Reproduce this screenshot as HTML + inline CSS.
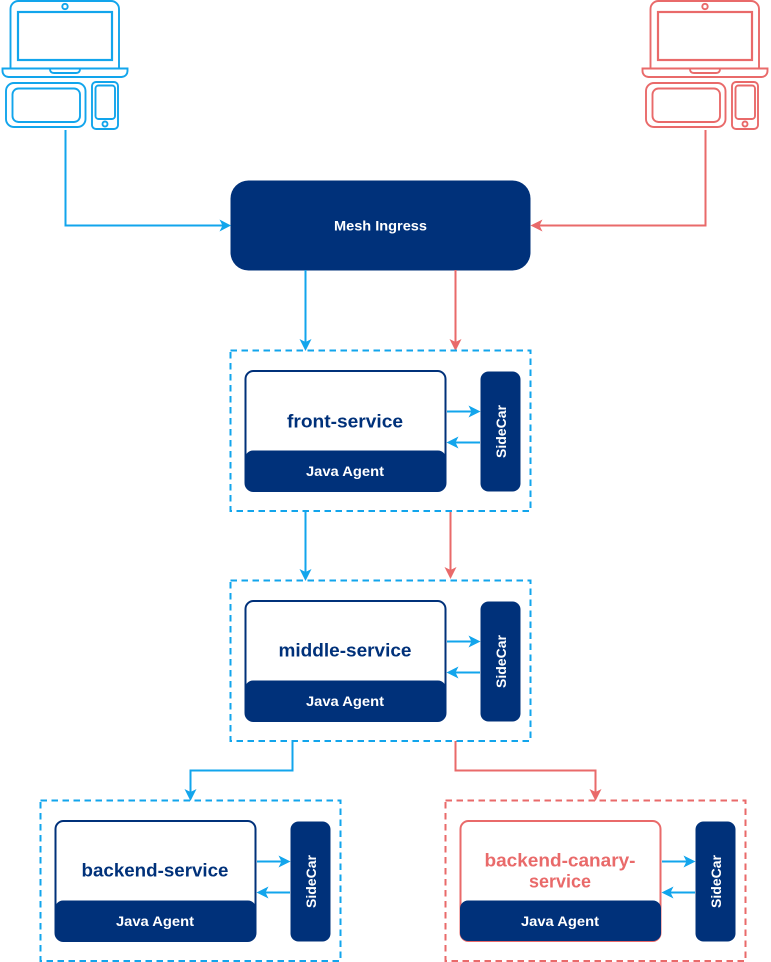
<!DOCTYPE html>
<html><head><meta charset="utf-8"><style>
html,body{margin:0;padding:0;background:#fff;width:771px;height:962px;overflow:hidden}
svg{display:block}
text{font-family:"Liberation Sans",sans-serif;font-weight:700;text-anchor:middle}
</style></head><body>
<svg width="771" height="962" viewBox="0 0 771 962" xmlns="http://www.w3.org/2000/svg">
<defs>
<g id="dev" fill="none" stroke-width="1.900">
<path d="M10.500 68V9a8 8 0 0 1 8-8H111a8 8 0 0 1 8 8V68"/>
<rect x="18" y="12" width="94" height="48" stroke-width="2.200"/>
<circle cx="65" cy="6.500" r="2.700"/>
<path d="M2.500 68.500H127.500V71a6 6 0 0 1-6 6H8.500a6 6 0 0 1-6-6Z"/>
<path d="M50 69q0 4 4 4H76q4 0 4-4"/>
<rect x="6" y="83" width="79.500" height="44" rx="8"/>
<rect x="12.500" y="88.500" width="67.500" height="33.500" rx="6"/>
<rect x="92" y="82" width="26" height="47" rx="4"/>
<rect x="95.500" y="85.500" width="19.500" height="33.500" rx="3"/>
<circle cx="105" cy="124" r="2.500"/>
</g>
<g id="svc">
<rect x="245.500" y="371" width="200" height="120" rx="8" fill="#fff" stroke="currentColor" stroke-width="2"/>
<path d="M245 458.500a8 8 0 0 1 8-8H438a8 8 0 0 1 8 8V483a8 8 0 0 1-8 8H253a8 8 0 0 1-8-8Z" fill="#00317a"/>
<rect x="480.500" y="371.500" width="40" height="120" rx="8" fill="#00317a"/>
<text x="345" y="476" font-size="14" fill="#fff" textLength="78" lengthAdjust="spacingAndGlyphs">Java Agent</text>
<text transform="translate(506 431.500) rotate(-90)" font-size="14" fill="#fff" textLength="53" lengthAdjust="spacingAndGlyphs">SideCar</text>
<path d="M447 411.500H473M480 442.500H454" stroke="#12a5ec" stroke-width="2" fill="none"/>
<path d="M480.500 411.500L468.500 405.500L471.500 411.500L468.500 417.500Z M446.500 442.500L458.500 436.500L455.500 442.500L458.500 448.500Z" fill="#12a5ec"/>
</g>
</defs>

<g stroke="#12a5ec"><use href="#dev"/></g>
<g stroke="#e96a6a" transform="translate(640 0)"><use href="#dev"/></g>

<rect x="230.500" y="180.500" width="300" height="90" rx="18" fill="#00317a"/>
<text x="380.500" y="230.500" font-size="14" fill="#fff" textLength="93" lengthAdjust="spacingAndGlyphs">Mesh Ingress</text>

<g fill="none" stroke-width="2">
<path d="M65.500 130V225.500H224" stroke="#12a5ec"/>
<path d="M705.500 130V225.500H537" stroke="#e96a6a"/>
<path d="M305.500 270V343M305.500 511V573M292.500 741V770.500H190.500V793" stroke="#12a5ec"/>
<path d="M455.500 270V343M450.500 511V571M455.500 741V770.500H595.500V793" stroke="#e96a6a"/>
</g>
<g fill="#12a5ec">
<path d="M231 225.500L219.500 219.500L222.500 225.500L219.500 231.500Z"/>
<path d="M305.500 351L299.500 339L305.500 342L311.500 339Z"/>
<path d="M305.500 581L299.500 569L305.500 572L311.500 569Z"/>
<path d="M190.500 801L184.500 789L190.500 792L196.500 789Z"/>
</g>
<g fill="#e96a6a">
<path d="M530.500 225.500L542.500 219.500L539.500 225.500L542.500 231.500Z"/>
<path d="M455.500 351L449.500 339L455.500 342L461.500 339Z"/>
<path d="M450.500 579L444.500 567L450.500 570L456.500 567Z"/>
<path d="M595.500 801L589.500 789L595.500 792L601.500 789Z"/>
</g>

<g fill="none" stroke-width="2" stroke-dasharray="6.500 4.500">
<rect x="230.500" y="350.500" width="300" height="160.500" stroke="#12a5ec"/>
<rect x="230.500" y="580.500" width="300" height="160.500" stroke="#12a5ec"/>
<rect x="40.500" y="800.500" width="300" height="160.500" stroke="#12a5ec"/>
<rect x="445.500" y="800.500" width="300" height="160.500" stroke="#e96a6a"/>
</g>

<g color="#00317a"><use href="#svc"/></g>
<g color="#00317a" transform="translate(0 230)"><use href="#svc"/></g>
<g color="#00317a" transform="translate(-190 450)"><use href="#svc"/></g>
<g color="#e96a6a" transform="translate(215 450)"><use href="#svc"/></g>

<text x="345" y="427.500" font-size="18" fill="#00317a" textLength="116" lengthAdjust="spacingAndGlyphs">front-service</text>
<text x="345" y="656.500" font-size="18" fill="#00317a" textLength="133" lengthAdjust="spacingAndGlyphs">middle-service</text>
<text x="155" y="876.500" font-size="18" fill="#00317a" textLength="147" lengthAdjust="spacingAndGlyphs">backend-service</text>
<text x="560" y="866.500" font-size="18" fill="#e96a6a" textLength="151" lengthAdjust="spacingAndGlyphs">backend-canary-</text>
<text x="560" y="887.500" font-size="18" fill="#e96a6a" textLength="62" lengthAdjust="spacingAndGlyphs">service</text>
</svg>
</body></html>
